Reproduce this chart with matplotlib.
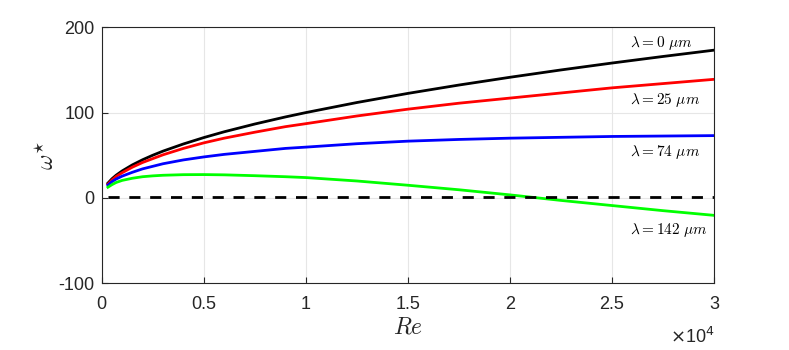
import matplotlib
matplotlib.use("Agg")
from matplotlib import pyplot as plt

plt.rcParams['font.family'] = ['Liberation Sans', 'DejaVu Sans']
plt.rcParams['mathtext.fontset'] = 'cm'

# Reynolds numbers and omega*
re = [300, 500, 700, 1000, 1500, 2000, 2500, 3000, 4000, 5000, 6000, 7500,
      9000, 10000, 12500, 15000, 17500, 20000, 22500, 25000, 27500, 30000]
w_0 = [17.3, 22.4, 26.5, 31.6, 38.7, 44.7, 50, 54.8, 63.2, 70.7, 77.5, 86.6,
       94.9, 100, 111.8, 122.5, 132.3, 141.4, 150, 158.1, 165.8, 173.2]
w_25 = [16, 21, 25, 29.5, 36, 41.5, 46, 50.5, 58, 64.5, 70, 77,
        83.5, 87, 96, 104, 111, 117, 123, 129, 134, 139]
w_74 = [15, 19, 22, 25.5, 30, 34, 37, 40, 44.5, 48, 51, 54.5,
        58, 59.5, 63.5, 66.5, 68.5, 70, 71, 72, 72.5, 73]
w_142 = [12.5, 15.5, 18, 20.5, 23, 24.8, 25.8, 26.5, 27.2, 27.3, 27, 26,
         24.8, 23.8, 19.8, 14.8, 9.5, 3.5, -3, -9, -15, -20.5]
zero_line = [1.5, 1.5]
zero_re = [300, 30000]

labels = [r'$\lambda = 0\ \mu m$', r'$\lambda = 25\ \mu m$',
          r'$\lambda = 74\ \mu m$', r'$\lambda = 142\ \mu m$']
label_y = [182, 115, 54, -38]
label_x = 25900

fig = plt.figure(figsize=(7.89, 3.5), dpi=100)
ax = fig.add_axes([0.129, 0.191, 0.776, 0.731])

ax.plot(re, w_0, color='black', lw=2)
ax.plot(re, w_25, color='#ff0000', lw=2)
ax.plot(re, w_74, color='#0000ff', lw=2)
ax.plot(re, w_142, color='#00ff00', lw=2)
ax.plot(zero_re, zero_line, 'k--', lw=2, dashes=(4, 3.5))

for lab, y in zip(labels, label_y):
    ax.text(label_x, y, lab, fontsize=11, va='center', ha='left')

ax.set_xlim(0, 30000)
ax.set_ylim(-100, 200)
ax.set_xticks([0, 5000, 10000, 15000, 20000, 25000, 30000])
ax.set_xticklabels(['0', '0.5', '1', '1.5', '2', '2.5', '3'])
ax.set_yticks([-100, 0, 100, 200])
ax.set_yticklabels(['-100', '0', '100', '200'])
ax.tick_params(direction='in', labelsize=13, colors='#262626', length=4)
ax.tick_params(axis='x', pad=9)
ax.tick_params(axis='y', pad=5)
ax.grid(True, color='#e6e6e6', lw=0.8)
ax.set_axisbelow(True)
for s in ax.spines.values():
    s.set_color('#262626')
    s.set_linewidth(0.8)

ax.set_xlabel(r'$Re$', fontsize=17, color='#262626', labelpad=3)
ax.set_ylabel(r'$\omega^{\star}$', fontsize=17, color='#262626', labelpad=0)
fig.text(0.905, 0.008, r'$\times$10$^4$', fontsize=13, ha='right', va='bottom',
         color='#262626', math_fontfamily='dejavusans')

fig.savefig('out.png', dpi=100)
